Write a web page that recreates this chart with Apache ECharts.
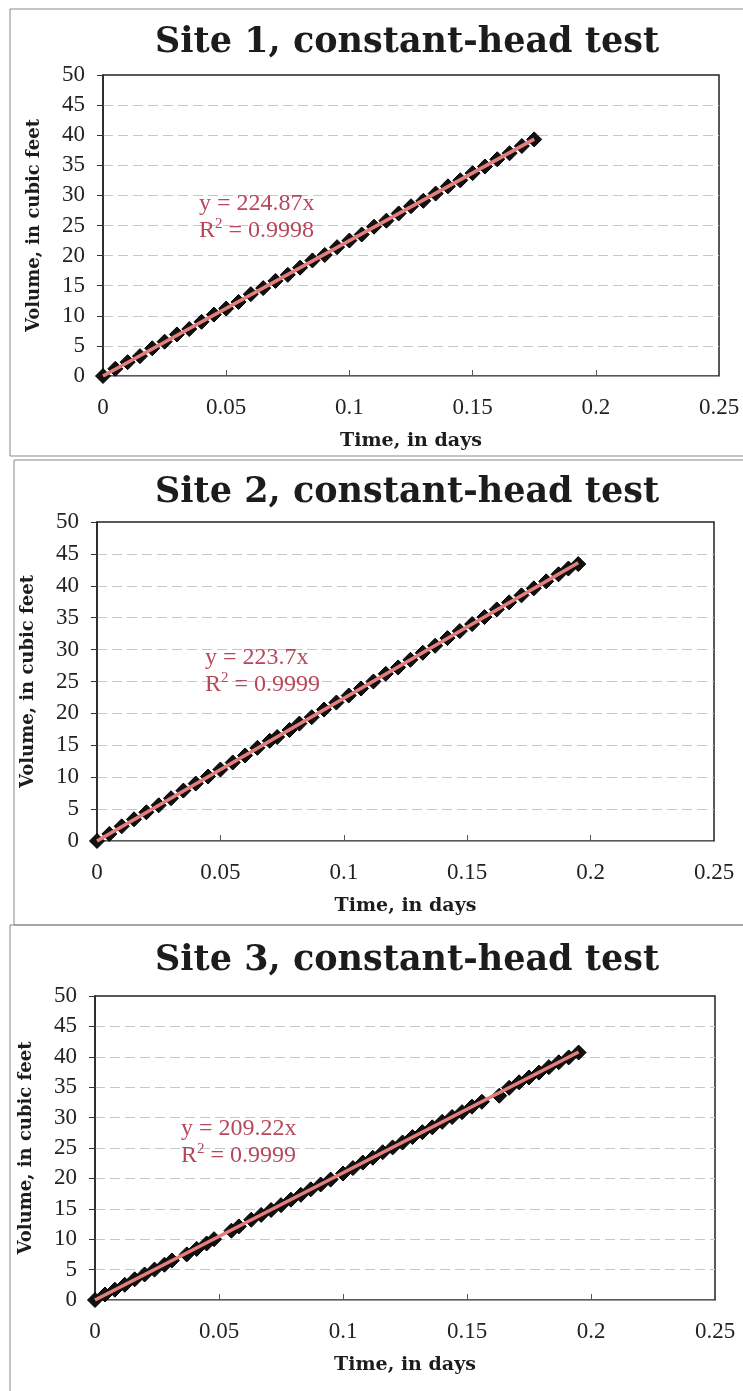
<!DOCTYPE html>
<html>
<head>
<meta charset="utf-8">
<script src="https://cdn.jsdelivr.net/npm/echarts@6/dist/echarts.min.js"></script>
<style>
  html, body { margin: 0; padding: 0; background: #fff; }
  #chart { width: 743px; height: 1391px; }
</style>
</head>
<body>
<div id="chart"></div>
<script>
// 数据：三个场地的定水头试验
const siteNames = ['Site 1, constant-head test', 'Site 2, constant-head test', 'Site 3, constant-head test'];
const slopes = [224.87, 223.7, 209.22];
const rSquared = ['0.9998', '0.9999', '0.9999'];

const time1 = [0, 0.005, 0.01, 0.015, 0.02, 0.025, 0.03, 0.035, 0.04, 0.045, 0.05, 0.055, 0.06, 0.065, 0.07, 0.075, 0.08, 0.085, 0.09, 0.095,
  0.1, 0.105, 0.11, 0.115, 0.12, 0.125, 0.13, 0.135, 0.14, 0.145, 0.15, 0.155, 0.16, 0.165, 0.17, 0.175];
const volume1 = [0, 1.2, 2.3, 3.3, 4.6, 5.7, 6.9, 7.8, 9.0, 10.2, 11.2, 12.3, 13.6, 14.6, 15.8, 16.8, 18.0, 19.2, 20.1, 21.4,
  22.5, 23.5, 24.8, 25.8, 27.0, 28.2, 29.1, 30.3, 31.5, 32.5, 33.7, 34.8, 36.0, 37.0, 38.2, 39.3];

const time2 = [0, 0.005, 0.01, 0.015, 0.02, 0.025, 0.03, 0.035, 0.04, 0.045, 0.05, 0.055, 0.06, 0.065, 0.07, 0.073, 0.078, 0.082, 0.087, 0.092,
  0.097, 0.102, 0.107, 0.112, 0.117, 0.122, 0.127, 0.132, 0.137, 0.142, 0.147, 0.152, 0.157, 0.162, 0.167, 0.172, 0.177, 0.182, 0.187, 0.191, 0.195];
const volume2 = [0, 1.1, 2.3, 3.4, 4.5, 5.6, 6.7, 7.9, 9.0, 10.1, 11.2, 12.3, 13.4, 14.6, 15.7, 16.3, 17.4, 18.4, 19.4, 20.6,
  21.7, 22.8, 23.9, 25.0, 26.2, 27.2, 28.4, 29.5, 30.6, 31.8, 32.9, 34.0, 35.1, 36.3, 37.4, 38.5, 39.6, 40.7, 41.8, 42.7, 43.4];

const time3 = [0, 0.004, 0.008, 0.012, 0.016, 0.02, 0.024, 0.028, 0.031, 0.037, 0.041, 0.045, 0.048, 0.055, 0.058, 0.063, 0.067, 0.071,
  0.075, 0.079, 0.083, 0.087, 0.091, 0.095, 0.1, 0.104, 0.108, 0.112, 0.116, 0.12, 0.124, 0.128, 0.132, 0.136, 0.14, 0.144, 0.148,
  0.152, 0.156, 0.163, 0.167, 0.171, 0.175, 0.179, 0.183, 0.187, 0.191, 0.195];
const volume3 = [0, 0.9, 1.7, 2.5, 3.4, 4.2, 5.0, 5.8, 6.5, 7.5, 8.4, 9.3, 10.0, 11.4, 12.1, 13.2, 14.0, 14.8,
  15.6, 16.5, 17.3, 18.2, 19.0, 19.8, 20.8, 21.7, 22.6, 23.4, 24.3, 25.1, 25.9, 26.8, 27.6, 28.4, 29.3, 30.1, 30.9,
  31.8, 32.6, 33.6, 34.9, 35.8, 36.6, 37.4, 38.3, 39.1, 39.9, 40.7];

const times = [time1, time2, time3];
const volumes = [volume1, volume2, volume3];
const trendEnds = [0.175, 0.195, 0.195];

const xTicks = [0, 0.05, 0.1, 0.15, 0.2, 0.25];
const yTicks = [0, 5, 10, 15, 20, 25, 30, 35, 40, 45, 50];

// 版面
const grids = [
  { left: 103, right: 24, top: 75, height: 301 },
  { left: 97, right: 29, top: 522, height: 319 },
  { left: 95, right: 28, top: 996, height: 304 }
];
const titleTops = [20, 470, 938];
const noteSpots = [[199, 190], [205, 644], [181, 1115]];
const panelBoxes = [[10, 9, 760, 447], [14, 460, 760, 465], [10, 925, 760, 480]];

const serif = '"Liberation Serif", "DejaVu Serif", serif';
const wideSerif = '"DejaVu Serif", "Liberation Serif", serif';
const noteColor = '#b8475b';

const chart = echarts.init(document.getElementById('chart'));

const option = {
  backgroundColor: '#fff',
  animation: false,
  title: siteNames.map((name, i) => ({
    text: name,
    left: 150,
    top: titleTops[i],
    textStyle: { fontFamily: wideSerif, fontWeight: 'bold', fontSize: 35, color: '#1c1c1c' }
  })),
  grid: grids.map(g => Object.assign({ show: true, borderColor: '#222', borderWidth: 1.5 }, g)),
  xAxis: grids.map((g, i) => ({
    type: 'value',
    gridIndex: i,
    min: 0, max: 0.25, interval: 0.05,
    name: 'Time, in days',
    nameLocation: 'middle',
    nameGap: 56,
    nameTextStyle: { fontFamily: wideSerif, fontWeight: 'bold', fontSize: 19, color: '#1c1c1c' },
    axisLine: { show: true, onZero: false, lineStyle: { color: '#999', width: 1 } },
    axisTick: { show: true, inside: true, length: 6, lineStyle: { color: '#555' } },
    splitLine: { show: false },
    axisLabel: {
      fontFamily: serif, fontSize: 23, color: '#222', margin: 20,
      formatter: v => xTicks.includes(+v.toFixed(2)) ? String(+v.toFixed(2)) : ''
    }
  })),
  yAxis: grids.map((g, i) => ({
    type: 'value',
    gridIndex: i,
    min: 0, max: 50, interval: 5,
    name: 'Volume, in cubic feet',
    nameLocation: 'middle',
    nameGap: 60,
    nameTextStyle: { fontFamily: wideSerif, fontWeight: 'bold', fontSize: 18, color: '#1c1c1c' },
    axisLine: { show: true, lineStyle: { color: '#222', width: 1.5 } },
    axisTick: { show: true, length: 6, lineStyle: { color: '#333' } },
    splitLine: { show: true, showMaxLine: false, lineStyle: { color: '#bfc9d1', type: [10, 5], width: 1 } },
    axisLabel: {
      fontFamily: serif, fontSize: 23, color: '#222', margin: 18,
      formatter: v => yTicks.includes(v) ? String(v) : ''
    }
  })),
  series: [].concat(
    times.map((t, i) => ({
      type: 'scatter',
      xAxisIndex: i, yAxisIndex: i,
      symbol: 'diamond',
      symbolSize: 15,
      itemStyle: { color: '#111', borderColor: '#000', borderWidth: 1, opacity: 1 },
      data: t.map((x, k) => [x, volumes[i][k]]),
      z: 2
    })),
    slopes.map((s, i) => ({
      type: 'line',
      xAxisIndex: i, yAxisIndex: i,
      symbol: 'none',
      lineStyle: { color: '#e47f7c', width: 3.5 },
      data: [[0, 0], [trendEnds[i], s * trendEnds[i]]],
      z: 3
    }))
  ),
  graphic: [].concat(
    panelBoxes.map(b => ({
      type: 'rect',
      shape: { x: b[0], y: b[1], width: b[2], height: b[3] },
      style: { fill: 'none', stroke: '#888', lineWidth: 1 },
      silent: true
    })),
    noteSpots.map((p, i) => ({
      type: 'text',
      left: p[0], top: p[1],
      style: {
        text: 'y = ' + slopes[i] + 'x\n{r|R}{s|2} = ' + rSquared[i],
        rich: {
          r: { fontFamily: serif, fontSize: 24, fill: noteColor },
          s: { fontFamily: serif, fontSize: 15, fill: noteColor, verticalAlign: 'top', padding: [0, 0, 9, 0] }
        },
        fontFamily: serif,
        fontSize: 24,
        fill: noteColor,
        lineHeight: 27,
        align: 'left'
      },
      z: 10
    }))
  )
};

chart.setOption(option);
</script>
</body>
</html>
